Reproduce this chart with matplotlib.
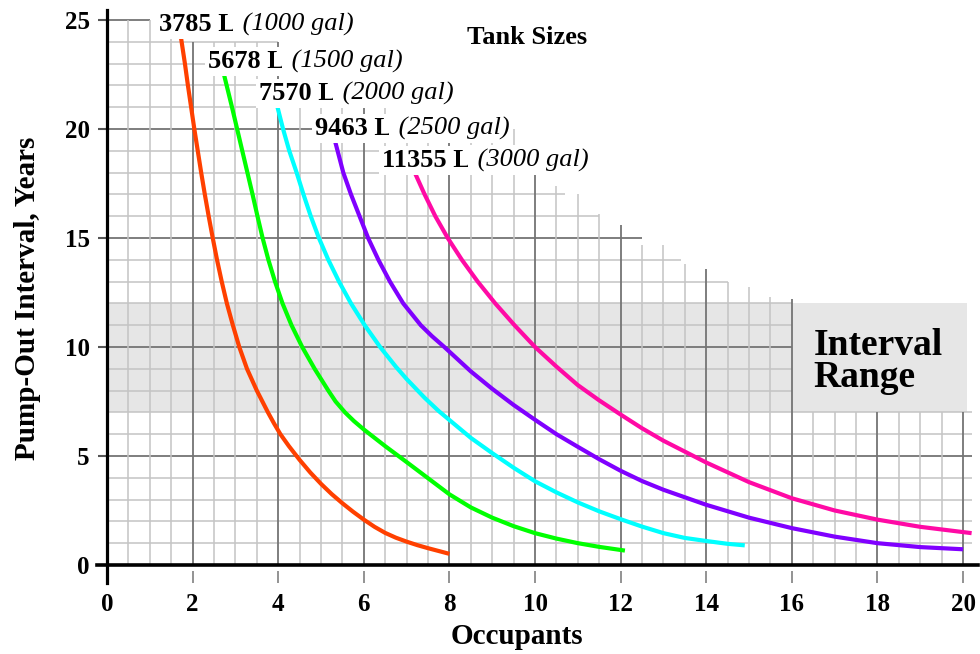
import matplotlib.pyplot as plt
import numpy as np

plt.rcParams['font.family'] = 'Liberation Serif'

# tank sizes
tank_l = ['3785', '5678', '7570', '9463', '11355']
tank_gal = ['1000', '1500', '2000', '2500', '3000']
colors = ['#ff4000', '#00ff00', '#00ffff', '#8000ff', '#ff0aa5']

# pump-out interval (years) vs occupants
occ_1 = [1.72, 1.82, 1.89, 1.965, 2.04, 2.12, 2.2, 2.285, 2.375, 2.47, 2.57, 2.68, 2.8, 2.94,
         3.09, 3.27, 3.5, 3.76, 3.9, 4.05, 4.25, 4.5, 4.75, 5.0, 5.25, 5.5, 5.75, 6.0,
         6.25, 6.5, 6.75, 7.0, 7.25, 7.5, 7.75, 8.0]
yrs_1 = [24.3, 23, 22, 21, 20, 19, 18, 17, 16, 15, 14, 13, 12, 11,
         10, 9, 8, 7, 6.5, 6, 5.45, 4.82, 4.24, 3.72, 3.25, 2.83, 2.44, 2.08,
         1.75, 1.47, 1.25, 1.07, 0.91, 0.77, 0.64, 0.51]

occ_2 = [2.72, 2.92, 3.04, 3.16, 3.28, 3.4, 3.515, 3.635, 3.77, 3.925, 4.1, 4.31, 4.56,
         4.85, 5.17, 5.34, 5.56, 5.77, 6.01, 6.5, 7.0, 7.5, 8.0, 8.5, 9.0, 9.5, 10.0, 10.5,
         11.0, 11.5, 12.1]
yrs_2 = [22.6, 21, 20, 19, 18, 17, 16, 15, 14, 13, 12, 11, 10,
         9, 8, 7.5, 7, 6.6, 6.2, 5.45, 4.72, 3.98, 3.24, 2.64, 2.17, 1.78, 1.46, 1.21,
         1.0, 0.83, 0.66]

occ_3 = [3.97, 4.113, 4.258, 4.43, 4.59, 4.76, 4.95, 5.17, 5.42, 5.7, 6.02, 6.38, 6.75,
         7.0, 7.42, 7.75, 8.0, 8.5, 9.0, 9.5, 10, 10.5, 11, 11.5, 12, 12.5, 13, 13.5,
         14, 14.5, 14.9]
yrs_3 = [21.1, 20, 19, 18, 17, 16, 15, 14, 13, 12, 11, 10, 9.09,
         8.53, 7.67, 7.06, 6.65, 5.83, 5.13, 4.46, 3.84, 3.33, 2.87, 2.46, 2.1, 1.76, 1.46, 1.24,
         1.1, 0.97, 0.9]

occ_4 = [5.32, 5.52, 5.7, 5.9, 6.1, 6.34, 6.61, 6.92, 7.33, 7.59, 7.88, 8.5, 9.0, 9.5, 10,
         10.5, 11, 11.5, 12, 12.5, 13, 14, 15, 16, 17, 18, 19, 20]
yrs_4 = [19.5, 18, 17, 16, 15, 14, 13, 12, 11, 10.5, 10, 8.88, 8.08, 7.34, 6.66,
         6.0, 5.42, 4.85, 4.32, 3.85, 3.45, 2.76, 2.17, 1.69, 1.3, 1.0, 0.82, 0.72]

occ_5 = [7.19, 7.42, 7.67, 7.96, 8.29, 8.66, 9.07, 9.52, 10, 10.5, 11, 11.5, 12, 12.5,
         13, 14, 15, 16, 17, 18, 19, 20.2]
yrs_5 = [18, 17, 16, 15, 14, 13, 12, 11, 10, 9.1, 8.25, 7.55, 6.9, 6.27,
         5.7, 4.7, 3.8, 3.06, 2.5, 2.08, 1.75, 1.46]

series = [(occ_1, yrs_1), (occ_2, yrs_2), (occ_3, yrs_3), (occ_4, yrs_4), (occ_5, yrs_5)]

x_ticks = list(range(0, 21, 2))
y_ticks = list(range(0, 26, 5))

# staircase extent of the grid paper
grid_y = list(range(26))
grid_y_right = [20.2] * 8 + [16] * 5 + [14.5, 13.4, 12.5, 11.5, 10.7, 9.65, 9.5, 9.4, 6.9, 6.9, 4.0, 4.0, 1.0]
grid_x = np.arange(0.5, 20.01, 0.5)
grid_x_top = ([25] * 3 + [24] * 5 + [21] * 5 + [20] * 6 +
              [18, 17.4, 17, 16.1, 15.6, 14.7, 14.7, 13.8, 13.6, 13, 12.75, 12.3, 12.2] + [7] * 8)

label_pos = [(1.22, 24.5), (2.37, 22.81), (3.56, 21.33), (4.86, 19.72), (6.42, 18.27)]

fig = plt.figure(figsize=(9.8, 6.54), dpi=100)
ax = fig.add_axes([0.1092, 0.1078, 0.8888, 0.8766])
ax.set_xlim(0, 20.35)
ax.set_ylim(-0.85, 25.45)

# interval range band
ax.axhspan(7, 12, xmin=0, xmax=20.1 / 20.35, color='#e6e6e6', lw=0, zorder=0)

minor_c, major_c = '#c4c4c4', '#747474'
for yv, xr in zip(grid_y, grid_y_right):
    if yv == 0:
        continue
    major = yv % 5 == 0
    ax.hlines(yv, 0, xr, colors=major_c if major else minor_c,
              lw=1.3 if major else 1.1, zorder=1)
for xv, yt in zip(grid_x, grid_x_top):
    major = xv % 2 == 0
    ax.vlines(xv, 0, yt, colors=major_c if major else minor_c,
              lw=1.3 if major else 1.1, zorder=1)

for (xs, ys), c in zip(series, colors):
    ax.plot(xs, ys, color=c, lw=3, solid_capstyle='butt', solid_joinstyle='round', zorder=3)

box = dict(boxstyle='square,pad=0.12', fc='white', ec='none')
for (lx, ly), l, g in zip(label_pos, tank_l, tank_gal):
    t = ax.text(lx, ly, l + ' L', fontsize=19, fontweight='bold',
                va='baseline', ha='left', bbox=box, zorder=5)
    ax.annotate(' (' + g + ' gal)', xy=(1, 0), xycoords=t, fontsize=19,
                style='italic', va='bottom', ha='left', bbox=box, zorder=5)

ax.text(9.81, 24.2, 'Tank Sizes', fontsize=19, fontweight='bold',
        ha='center', va='center', zorder=5)
ax.text(16.5, 8.18, 'Interval\nRange', fontsize=27, fontweight='bold',
        va='baseline', ha='left', linespacing=0.88, zorder=5)

# axes
for s in ['top', 'right', 'bottom']:
    ax.spines[s].set_visible(False)
ax.spines['left'].set_linewidth(2.3)
ax.axhline(0, xmin=-0.012, xmax=1, color='black', lw=2.6, clip_on=False, zorder=4)

ax.set_xticks(x_ticks)
ax.set_yticks(y_ticks)
ax.tick_params(axis='x', direction='in', length=8.5, width=1.3, color='#8a8a8a', pad=7)
ax.tick_params(axis='y', direction='out', length=6.5, width=1.5, color='#555555', pad=6)
for lab in ax.get_xticklabels() + ax.get_yticklabels():
    lab.set_fontsize(18)
    lab.set_fontweight('bold')

fig.text(517 / 980, 1 - 636 / 654, 'Occupants', fontsize=21, fontweight='bold',
         ha='center', va='center')
fig.text(28 / 980, 1 - 298 / 654, 'Pump-Out Interval, Years', fontsize=21,
         fontweight='bold', rotation=90, ha='center', va='center')

fig.savefig('out.png', dpi=100)
